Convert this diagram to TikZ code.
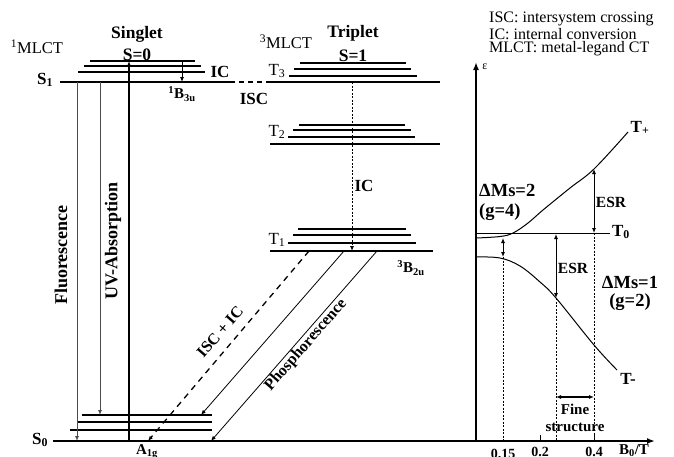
\documentclass[tikz,border=0pt]{standalone}
\usepackage{fontspec}
\setmainfont{Liberation Serif}
\usetikzlibrary{arrows.meta}
\begin{document}
\begin{tikzpicture}[x=1pt,y=-1pt,
  lbl/.style={font=\fontsize{#1}{#1}\selectfont\bfseries, inner sep=0pt},
  lbl/.default=17,
  rlbl/.style={font=\fontsize{#1}{#1}\selectfont, inner sep=0pt},
  rlbl/.default=17,
  level/.style={line width=2.3pt},
  sublevel/.style={line width=1.1pt},
  tip/.style={-{Latex[length=5pt,width=4pt]}},
  dtip/.style={{Latex[length=5pt,width=4pt]}-{Latex[length=5pt,width=4pt]}},
  trans/.style={line width=0.8pt, tip},
  fl/.style={line width=0.9pt, black!70, tip},
  axis/.style={line width=2.3pt, -{Latex[length=8pt,width=6pt]}},
  vdot/.style={line width=0.9pt, dash pattern=on 2pt off 1.5pt},
]
\useasboundingbox (0,0) rectangle (674,456);

% ---------- Singlet ----------
\coordinate (S1l) at (60,82); \coordinate (S1r) at (230,82);
\draw[level] (S1l) -- (S1r);
\draw[sublevel] (90,61) -- (195,61);
\draw[sublevel] (84,66) -- (201,66);
\draw[sublevel] (78,72) -- (205,72);
\node[rlbl=16.5] (mlct1) at (37,47) {\textsuperscript{1}MLCT};
\node[lbl=17.5] (singlet) at (137,34) {Singlet};
\node[lbl=17.5] (s0t) at (137,55) {S=0};
\node[lbl] (s1lab) at (45,80) {S\textsubscript{1}};
\node[lbl] (ic1) at (220,72) {IC};
\node[lbl=15] (b3u) at (182,94) {\textsuperscript{1}B\textsubscript{3u}};
\coordinate (ic1a) at (182,61); \coordinate (ic1b) at (182,82);
\draw[trans] (ic1a) -- (ic1b);

% ---------- ISC ----------
\coordinate (T3l) at (270,82); \coordinate (T3r) at (440,82);
\draw[line width=1.3pt, dash pattern=on 5pt off 4pt] (S1r) -- (T3l);
\node[lbl] (isc) at (254,99) {ISC};

% ---------- Triplet ----------
\draw[level] (T3l) -- (T3r);
\draw[sublevel] (300,63) -- (406,63);
\draw[sublevel] (294,69) -- (411,69);
\draw[sublevel] (289,76) -- (417,76);
\coordinate (T2l) at (270,144); \coordinate (T2r) at (440,144);
\draw[level] (T2l) -- (T2r);
\draw[sublevel] (299,125) -- (405,125);
\draw[sublevel] (293,130) -- (411,130);
\draw[sublevel] (288,137) -- (415,137);
\coordinate (T1l) at (270,251); \coordinate (T1r) at (433,251);
\draw[level] (T1l) -- (T1r);
\draw[sublevel] (298,229) -- (406,229);
\draw[sublevel] (293,235) -- (411,235);
\draw[sublevel] (288,243) -- (416,243);
\node[rlbl=16.5] (mlct3) at (286,42) {\textsuperscript{3}MLCT};
\node[lbl=17.5] (triplet) at (353,33) {Triplet};
\node[lbl=17.5] (s1t) at (353,56) {S=1};
\node[rlbl] (t3lab) at (277,71) {T\textsubscript{3}};
\node[rlbl] (t2lab) at (277,132) {T\textsubscript{2}};
\node[rlbl] (t1lab) at (277,240) {T\textsubscript{1}};
\coordinate (ict) at (352,82); \coordinate (icb) at (352,251);
\draw[vdot, tip] (ict) -- (icb);
\node[lbl] (ic2) at (364,186) {IC};
\node[lbl=15] (b2u) at (411,268) {\textsuperscript{3}B\textsubscript{2u}};

% ---------- Ground state ----------
\coordinate (S0l) at (53,441); \coordinate (ax0) at (476,441);
\draw[level] (S0l) -- (ax0);
\draw[sublevel] (82,415) -- (212,415);
\draw[sublevel] (77,422) -- (212,422);
\draw[sublevel] (70,430) -- (212,430);
\node[lbl] (s0lab) at (40,440) {S\textsubscript{0}};
\node[lbl=15] (a1g) at (147,452) {A\textsubscript{1g}};

% ---------- Transitions ----------
\draw[fl] (77,82) -- (77,441);
\draw[fl] (100,82) -- (100,415);
\draw[line width=1.1pt, tip] (129,441) -- (129,61);
\node[lbl=18, rotate=90] (fluo) at (61,255) {Fluorescence};
\node[lbl=18, rotate=90] (uv) at (113,241) {UV-Absorption};

\coordinate (d1) at (309,251); \coordinate (d2) at (148,441);
\draw[line width=1.3pt, dash pattern=on 6pt off 5pt, tip] (d1) -- (d2);
\coordinate (p1) at (344,251); \coordinate (p2) at (201,415);
\draw[trans] (p1) -- (p2);
\coordinate (q1) at (377,251); \coordinate (q2) at (211,441);
\draw[trans] (q1) -- (q2);
\node[lbl=16, rotate=49] (iscic) at (220,332) {ISC + IC};
\node[lbl=16, rotate=49] (phos) at (306,345) {Phosphorescence};

% ---------- Right panel ----------
\coordinate (axy) at (476,62); \coordinate (axx) at (655,441);
\draw[axis] (ax0) -- (axy);
\draw[axis] (ax0) -- (axx);
\node[rlbl=12] (eps) at (485,67) {ε};
\node[rlbl=16, anchor=west] (leg1) at (489,19) {ISC: intersystem crossing};
\node[rlbl=16, anchor=west] (leg2) at (489,34) {IC: internal conversion};
\node[rlbl=16, anchor=west] (leg3) at (489,49) {MLCT: metal-legand CT};

\coordinate (T0l) at (476,233); \coordinate (T0r) at (610,233);
\draw[line width=1pt] (T0l) -- (T0r);
\node[lbl] (t0lab) at (621,232) {T\textsubscript{0}};
\draw[line width=1pt] plot[smooth, tension=0.6] coordinates {(476,238) (500,236.5) (513,233) (528,223) (543,210) (570,188) (594,169) (628,132)};
\draw[line width=1pt] plot[smooth, tension=0.6] coordinates {(476,257) (500,258) (520,266) (540,282) (556,298) (594,345) (617,370)};
\node[lbl] (tplus) at (640,128) {T\textsubscript{+}};
\node[lbl] (tminus) at (628,379) {T-};

\coordinate (a1) at (503,238); \coordinate (a2) at (503,257);
\draw[line width=0.9pt, dtip] (a1) -- (a2);
\draw[vdot, line width=0.8pt] (a2) -- (503,441);
\coordinate (e1) at (594,233); \coordinate (e2) at (594,169);
\draw[line width=0.9pt, dtip] (e1) -- (e2);
\draw[vdot, line width=0.8pt] (e1) -- (594,441);
\coordinate (f1) at (556,234); \coordinate (f2) at (556,298);
\draw[line width=0.9pt, dtip] (f1) -- (f2);
\draw[vdot, line width=0.8pt] (f2) -- (556,441);
\node[lbl=15.5] (esr1) at (611,202) {ESR};
\node[lbl=15.5] (esr2) at (573,268) {ESR};

\coordinate (g1) at (556,397); \coordinate (g2) at (594,397);
\draw[line width=1.3pt, dtip] (g1) -- (g2);
\node[lbl=15] (fine) at (575,409) {Fine};
\node[lbl=15] (struct) at (575,427) {structure};

\node[lbl=18.5, anchor=west] (dm2) at (479,190) {ΔMs=2};
\node[lbl=18.5, anchor=west] (g4) at (479,212) {(g=4)};
\node[lbl=18.5] (dm1) at (630,282) {ΔMs=1};
\node[lbl=18.5] (g2lab) at (630,302) {(g=2)};

\draw[line width=1pt] (540,441) -- (540,435);
\draw[line width=1pt] (594,441) -- (594,435);
\node[lbl=14] (x015) at (503,454) {0.15};
\node[lbl=14] (x02) at (540,452) {0.2};
\node[lbl=14] (x04) at (594,452) {0.4};
\node[lbl=15] (b0) at (634,451) {B\textsubscript{0}/T};
\end{tikzpicture}
\end{document}
